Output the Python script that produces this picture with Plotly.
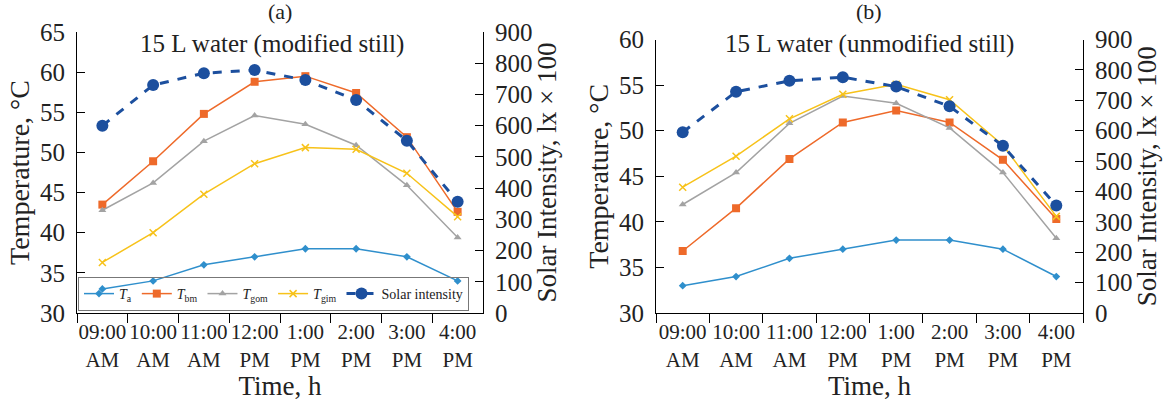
import plotly.graph_objects as go

times = ["09:00 AM", "10:00 AM", "11:00 AM", "12:00 PM", "1:00 PM", "2:00 PM", "3:00 PM", "4:00 PM"]
tick_text = ["09:00<br>AM", "10:00<br>AM", "11:00<br>AM", "12:00<br>PM", "1:00<br>PM", "2:00<br>PM", "3:00<br>PM", "4:00<br>PM"]

# Panel (a): modified still
a_Ta = [33.0, 34.0, 36.0, 37.0, 38.0, 38.0, 37.0, 34.0]
a_Tbm = [43.5, 48.9, 54.8, 58.8, 59.5, 57.4, 51.9, 42.6]
a_Tgom = [42.8, 46.2, 51.4, 54.6, 53.5, 50.9, 45.9, 39.4]
a_Tgim = [36.3, 40.0, 44.8, 48.6, 50.6, 50.4, 47.4, 42.0]
a_solar = [600, 730, 768, 778, 746, 682, 552, 356]

# Panel (b): unmodified still
b_Ta = [33.0, 34.0, 36.0, 37.0, 38.0, 38.0, 37.0, 34.0]
b_Tbm = [36.8, 41.5, 46.9, 50.9, 52.2, 50.9, 46.8, 40.3]
b_Tgom = [41.9, 45.4, 50.8, 53.8, 53.0, 50.3, 45.4, 38.2]
b_Tgim = [43.8, 47.2, 51.3, 54.0, 55.1, 53.4, 48.4, 40.6]
b_solar = [595, 728, 764, 776, 745, 680, 550, 354]

FONT = "Liberation Serif"
C_TA = "#2f8fcc"
C_TBM = "#ee6a2a"
C_TGOM = "#a3a3a3"
C_TGIM = "#f7c21a"
C_SOL = "#1c4f9e"
TXT = "#222"

fig = go.Figure()

def add_panel(xa, ya, ya2, Ta, Tbm, Tgom, Tgim, solar, show):
    fig.add_trace(go.Scatter(x=times, y=Ta, xaxis=xa, yaxis=ya, mode="lines+markers",
                             name="<i>T</i><sub>a</sub>", line=dict(color=C_TA, width=1.5),
                             marker=dict(symbol="diamond", size=6, color=C_TA), showlegend=show))
    fig.add_trace(go.Scatter(x=times, y=Tbm, xaxis=xa, yaxis=ya, mode="lines+markers",
                             name="<i>T</i><sub>bm</sub>", line=dict(color=C_TBM, width=1.5),
                             marker=dict(symbol="square", size=8, color=C_TBM), showlegend=show))
    fig.add_trace(go.Scatter(x=times, y=Tgom, xaxis=xa, yaxis=ya, mode="lines+markers",
                             name="<i>T</i><sub>gom</sub>", line=dict(color=C_TGOM, width=1.5),
                             marker=dict(symbol="triangle-up", size=7, color=C_TGOM), showlegend=show))
    fig.add_trace(go.Scatter(x=times, y=Tgim, xaxis=xa, yaxis=ya, mode="lines+markers",
                             name="<i>T</i><sub>gim</sub>", line=dict(color=C_TGIM, width=1.5),
                             marker=dict(symbol="x-thin", size=7, color=C_TGIM,
                                         line=dict(color=C_TGIM, width=1.5)), showlegend=show))
    fig.add_trace(go.Scatter(x=times, y=solar, xaxis=xa, yaxis=ya2, mode="lines+markers",
                             name="Solar intensity", line=dict(color=C_SOL, width=3, dash="dash"),
                             marker=dict(symbol="circle", size=12, color=C_SOL), showlegend=show))

add_panel("x", "y", "y2", a_Ta, a_Tbm, a_Tgom, a_Tgim, a_solar, True)
add_panel("x2", "y3", "y4", b_Ta, b_Tbm, b_Tgom, b_Tgim, b_solar, False)

W, H = 1171, 403
def px(v):
    return v / W
def py(v):
    return (H - v) / H

ybot = py(313)
axis_common = dict(showline=True, linecolor="black", linewidth=1, showgrid=False, zeroline=False,
                   tickcolor="black", tickfont=dict(family=FONT, size=25, color=TXT),
                   ticklen=8, tickwidth=1, automargin=False, ticklabelstandoff=6)
xcommon = dict(showline=True, linecolor="black", linewidth=1, showgrid=False, zeroline=False,
               type="category", tickvals=times, ticktext=tick_text, tickson="boundaries",
               ticks="outside", ticklen=9, tickcolor="black", tickangle=0, automargin=False,
               tickfont=dict(family=FONT, size=21, color=TXT),
               title=dict(text="Time, h", font=dict(family=FONT, size=27, color=TXT), standoff=2))

fig.update_layout(
    width=W, height=H,
    margin=dict(l=0, r=0, t=0, b=0),
    plot_bgcolor="white", paper_bgcolor="white",
    font=dict(family=FONT, color=TXT),
    xaxis=dict(domain=[px(77), px(483)], anchor="y", range=[-0.5, 7.5], **xcommon),
    xaxis2=dict(domain=[px(656), px(1083)], anchor="y3", range=[-0.5, 7.5], **xcommon),
    yaxis=dict(domain=[ybot, py(32)], anchor="x", range=[30, 65], dtick=5, ticks="inside",
               title=dict(text="Temperature, °C", font=dict(family=FONT, size=28, color=TXT), standoff=2),
               **axis_common),
    yaxis2=dict(overlaying="y", side="right", anchor="x", range=[0, 900], dtick=100, ticks="inside",
                title=dict(text="Solar Intensity, lx × 100", font=dict(family=FONT, size=27, color=TXT), standoff=0),
                **axis_common),
    yaxis3=dict(domain=[ybot, py(39.5)], anchor="x2", range=[30, 60], dtick=5, ticks="inside",
                title=dict(text="Temperature, °C", font=dict(family=FONT, size=28, color=TXT), standoff=2),
                **axis_common),
    yaxis4=dict(overlaying="y3", side="right", anchor="x2", range=[0, 900], dtick=100, ticks="inside",
                title=dict(text="Solar Intensity, lx × 100", font=dict(family=FONT, size=27, color=TXT), standoff=0),
                **axis_common),
    legend=dict(orientation="h", x=px(78), y=py(311), xanchor="left", yanchor="bottom",
                bgcolor="rgba(255,255,255,0)", bordercolor="#777", borderwidth=1,
                font=dict(family=FONT, size=14, color=TXT),
                itemwidth=30, tracegroupgap=0),
    showlegend=True,
    annotations=[
        dict(text="(a)", x=px(280), y=py(12), xref="paper", yref="paper", xanchor="center", yanchor="middle",
             showarrow=False, font=dict(family=FONT, size=22, color=TXT)),
        dict(text="15 L water (modified still)", x=px(272), y=py(44), xref="paper", yref="paper",
             xanchor="center", yanchor="middle", showarrow=False, font=dict(family=FONT, size=25, color=TXT)),
        dict(text="(b)", x=px(869), y=py(12), xref="paper", yref="paper", xanchor="center", yanchor="middle",
             showarrow=False, font=dict(family=FONT, size=22, color=TXT)),
        dict(text="15 L water (unmodified still)", x=px(869), y=py(44), xref="paper", yref="paper",
             xanchor="center", yanchor="middle", showarrow=False, font=dict(family=FONT, size=25, color=TXT)),
    ],
)

fig.write_html("out.html", config={"displayModeBar": False},
               post_script="document.body.style.margin='0';")
